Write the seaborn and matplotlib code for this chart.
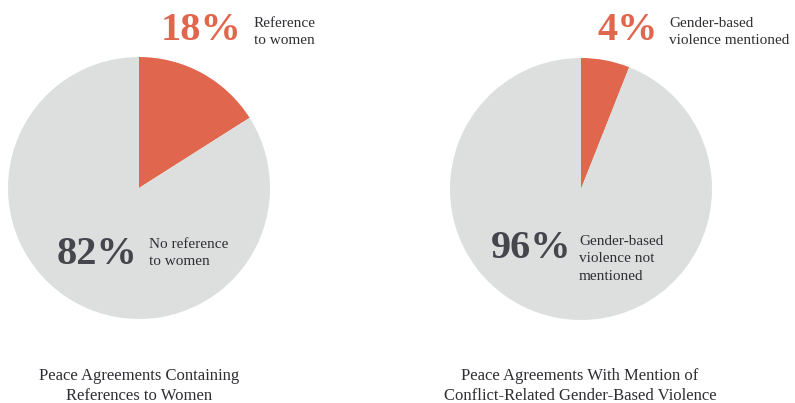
import matplotlib
matplotlib.use("Agg")
import matplotlib.pyplot as plt
import seaborn as sns

# ---- data ----
titles = ["Peace Agreements Containing\nReferences to Women",
          "Peace Agreements With Mention of\nConflict-Related Gender-Based Violence"]
# wedge shares as drawn in the picture (highlighted, rest)
left_shares = [16, 84]
right_shares = [6, 94]
left_pct_labels = ["18%", "82%"]
right_pct_labels = ["4%", "96%"]
left_desc = ["Reference\nto women", "No reference\nto women"]
right_desc = ["Gender-based\nviolence mentioned", "Gender-based\nviolence not\nmentioned"]

ORANGE = "#E0674E"
GRAY = "#DCDFDE"
DARK = "#45464D"
TEXT = "#2E2E33"

sns.set_theme(style="white")
plt.rcParams['font.family'] = ['Liberation Serif', 'DejaVu Serif']

W, H = 795, 403
fig = plt.figure(figsize=(W / 100, H / 100), dpi=100)


def fx(x):
    return x / W


def fy(y):
    return 1 - y / H


def pie_axes(cx, cy, r, shares):
    ax = fig.add_axes([fx(cx - r), fy(cy + r), 2 * r / W, 2 * r / H])
    ax.pie(shares, colors=[ORANGE, GRAY], startangle=90, counterclock=False,
           radius=1, wedgeprops=dict(linewidth=0))
    ax.set_xlim(-1, 1)
    ax.set_ylim(-1, 1)
    ax.set_aspect("equal")
    ax.axis("off")
    return ax


axL = pie_axes(139, 188, 131, left_shares)
axR = pie_axes(581, 189, 131, right_shares)

big = dict(fontsize=29, fontweight="bold", va="center", ha="right")
small = dict(fontsize=11, color=TEXT, va="center", ha="left", linespacing=1.45)

# left pie texts
fig.text(fx(242), fy(31), left_pct_labels[0], color=ORANGE, **big)
fig.text(fx(254), fy(32), left_desc[0], **small)
fig.text(fx(137), fy(255), left_pct_labels[1], color=DARK, **big)
fig.text(fx(149), fy(253), left_desc[1], **small)

# right pie texts
fig.text(fx(658), fy(31), right_pct_labels[0], color=ORANGE, **big)
fig.text(fx(669), fy(32), right_desc[0], **small)
fig.text(fx(571), fy(248), right_pct_labels[1], color=DARK, **big)
fig.text(fx(579), fy(259), right_desc[1], **small)

# titles
fig.text(fx(139), fy(386), titles[0], fontsize=12, color=TEXT, ha="center",
         va="center", linespacing=1.35)
fig.text(fx(580), fy(386), titles[1], fontsize=12, color=TEXT, ha="center",
         va="center", linespacing=1.35)

fig.savefig("out.png", dpi=100, facecolor="white")
